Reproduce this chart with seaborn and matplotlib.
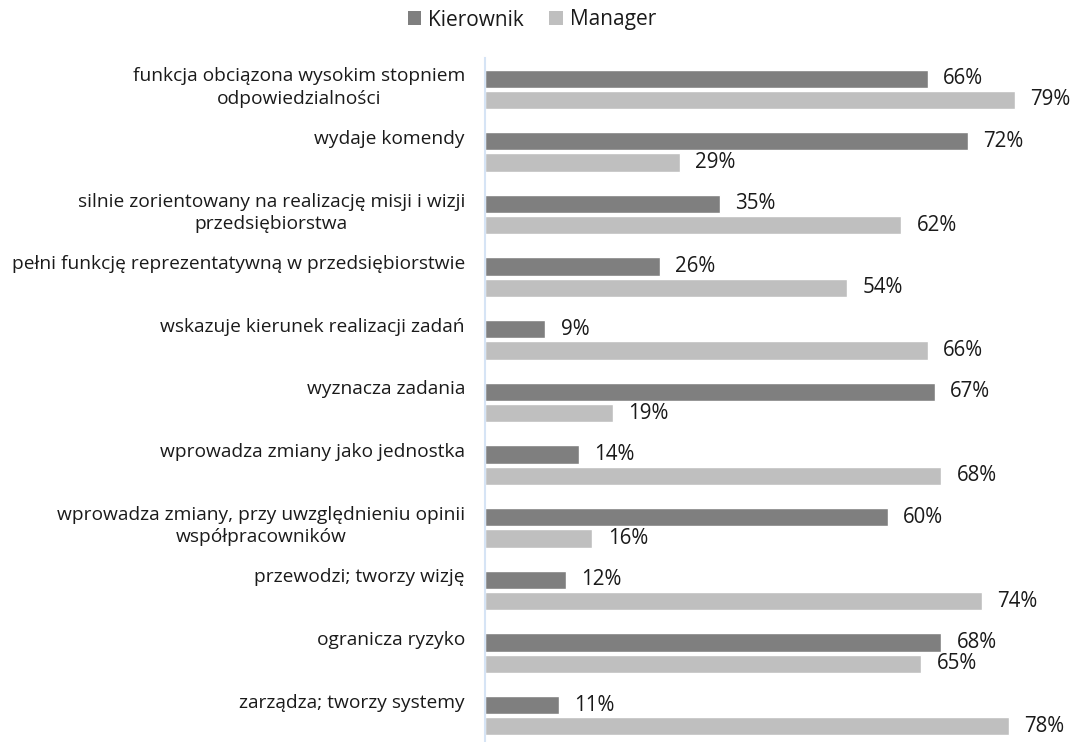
import matplotlib
matplotlib.use("Agg")
import matplotlib.pyplot as plt
import seaborn as sns
import pandas as pd
from matplotlib.patches import Patch
from matplotlib import font_manager as fm

categories = [
    "funkcja obciązona wysokim stopniem\nodpowiedzialności",
    "wydaje komendy",
    "silnie zorientowany na realizację misji i wizji\nprzedsiębiorstwa",
    "pełni funkcję reprezentatywną w przedsiębiorstwie",
    "wskazuje kierunek realizacji zadań",
    "wyznacza zadania",
    "wprowadza zmiany jako jednostka",
    "wprowadza zmiany, przy uwzględnieniu opinii\nwspółpracowników",
    "przewodzi; tworzy wizję",
    "ogranicza ryzyko",
    "zarządza; tworzy systemy",
]
kierownik = [66, 72, 35, 26, 9, 67, 14, 60, 12, 68, 11]
manager = [79, 29, 62, 54, 66, 19, 68, 16, 74, 65, 78]
series_names = ["Kierownik", "Manager"]
colors = ["#7f7f7f", "#bfbfbf"]

df = pd.DataFrame({
    "kategoria": categories * 2,
    "seria": [series_names[0]] * len(categories) + [series_names[1]] * len(categories),
    "wartosc": kierownik + manager,
})

sns.set_theme(style="white")
plt.rcParams["font.family"] = ["Open Sans", "DejaVu Sans"]
plt.rcParams["font.stretch"] = "normal"

W, H = 1077, 742
fig = plt.figure(figsize=(W / 100, H / 100), dpi=100)
ax = fig.add_axes([485 / W, 1 - 747 / H, 1 - 485 / W, (747 - 58) / H])

sns.barplot(data=df, y="kategoria", x="wartosc", hue="seria", order=categories,
            hue_order=series_names, palette=colors, orient="h", width=0.68,
            gap=0.14, dodge=True, ax=ax, legend=False, errorbar=None, saturation=1)

ax.set_xlim(0, 88.2)
ax.set_ylim(len(categories) - 0.5, -0.5)
ax.set_xlabel("")
ax.set_ylabel("")
ax.set_xticks([])
ax.set_yticks([])
for s in ["top", "right", "bottom"]:
    ax.spines[s].set_visible(False)
ax.spines["left"].set_color("#d6e4f5")
ax.spines["left"].set_linewidth(1.5)

for container in ax.containers:
    ax.bar_label(container, labels=[f"{v:.0f}%" for v in container.datavalues],
                 padding=11, fontsize=14.8, color="#1a1a1a", fontstretch="normal")

for i, cat in enumerate(categories):
    ax.annotate(cat, xy=(0, i), xycoords=("axes fraction", "data"),
                xytext=(-20, 22), textcoords="offset pixels",
                ha="right", va="top", multialignment="center",
                fontsize=13.8, color="#1a1a1a", linespacing=1.3,
                annotation_clip=False)

handles = [Patch(facecolor=c, edgecolor="none") for c in colors]
fig.legend(handles, series_names, loc="center", bbox_to_anchor=(532 / W, 1 - 20 / H),
           ncol=2, frameon=False, fontsize=15, handlelength=0.65, handleheight=0.65,
           handletextpad=0.35, columnspacing=1.2, labelcolor="#1a1a1a")

fig.savefig("out.png", dpi=100)
